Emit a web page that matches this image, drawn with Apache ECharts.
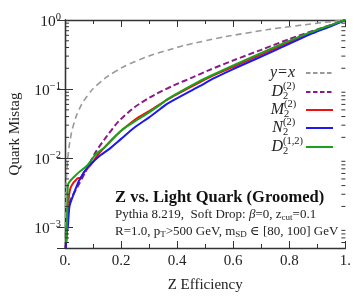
<!DOCTYPE html>
<html><head><meta charset="utf-8">
<script src="https://cdn.jsdelivr.net/npm/echarts@6/dist/echarts.min.js"></script>
<style>html,body{margin:0;padding:0;background:#fff}#c{width:354px;height:298px}</style>
</head><body><div id="c"></div>
<script>
// ---- data ----
const xTickLabels = {0:'0.', 0.2:'0.2', 0.4:'0.4', 0.6:'0.6', 0.8:'0.8', 1:'1.'};
const yExponents = [-3, -2, -1, 0];
const minorTickValues = [0.0006,0.0007,0.0008,0.0009,
  0.002,0.003,0.004,0.005,0.006,0.007,0.008,0.009,
  0.02,0.03,0.04,0.05,0.06,0.07,0.08,0.09,
  0.2,0.3,0.4,0.5,0.6,0.7,0.8,0.9];
const yEqX = [[0.0005,0.0005],[0.001,0.001],[0.002,0.002],[0.003,0.003],[0.005,0.005],[0.008,0.008],[0.012,0.012],[0.02,0.02],[0.03,0.03],[0.05,0.05],[0.08,0.08],[0.12,0.12],[0.18,0.18],[0.25,0.25],[0.35,0.35],[0.5,0.5],[0.65,0.65],[0.8,0.8],[1,1]];
const D2 = [[0.002,0.0005],[0.006,0.001],[0.010,0.0019],[0.024,0.0027],[0.051,0.0043],[0.07,0.006],[0.108,0.012],[0.15,0.021],[0.191,0.034],[0.249,0.055],[0.318,0.082],[0.388,0.113],[0.457,0.149],[0.514,0.188],[0.6,0.26],[0.7,0.37],[0.8,0.53],[0.9,0.73],[0.96,0.88],[1,1]];
const M2 = [[0.003,0.0005],[0.007,0.001],[0.010,0.0018],[0.015,0.003],[0.022,0.0039],[0.045,0.0051],[0.056,0.0052],[0.068,0.0063],[0.097,0.0085],[0.12,0.0115],[0.18,0.021],[0.249,0.036],[0.3,0.048],[0.364,0.07],[0.48,0.125],[0.526,0.155],[0.6,0.21],[0.757,0.4],[0.87,0.63],[0.95,0.84],[1,1]];
const N2 = [[0.003,0.0005],[0.006,0.0008],[0.010,0.001],[0.016,0.002],[0.028,0.0028],[0.05,0.0047],[0.08,0.0073],[0.12,0.0105],[0.157,0.0135],[0.2,0.019],[0.249,0.028],[0.3,0.039],[0.341,0.052],[0.364,0.061],[0.48,0.11],[0.526,0.14],[0.6,0.195],[0.757,0.375],[0.87,0.61],[0.95,0.82],[1,1]];
const D12 = [[0.004,0.0006],[0.007,0.0012],[0.009,0.0025],[0.0104,0.0041],[0.039,0.0057],[0.08,0.0079],[0.111,0.0115],[0.143,0.0145],[0.2,0.025],[0.249,0.034],[0.3,0.046],[0.341,0.06],[0.364,0.071],[0.48,0.13],[0.526,0.16],[0.6,0.22],[0.757,0.42],[0.87,0.65],[0.95,0.85],[1,1]];

const SERIF = '"Liberation Serif","DejaVu Serif",serif';
const AX = '#333';
const C_GRAY = '#999', C_PURP = '#8a1a8a', C_RED = '#f01010', C_BLUE = '#1a1af0', C_GREEN = '#1aa31a';
const chart = echarts.init(document.getElementById('c'));

function yLabel(v){
  const e = Math.log10(v), r = Math.round(e);
  if (Math.abs(e - r) > 1e-6 || yExponents.indexOf(r) < 0) return '';
  return '{b|10}{s|' + (r < 0 ? '\u2212' + (-r) : r) + '}';
}
const lineBase = {type:'line', showSymbol:false, symbol:'none', smooth:0.25, z:3};

function mathLabel(main, sup, sub, cy, supX){
  return [
    {type:'text', style:{text:main, x:supX, y:cy, textAlign:'right', textVerticalAlign:'middle', font:'italic 16px '+SERIF, fill:'#222'}},
    {type:'text', style:{text:sup, x:supX, y:cy-6, textAlign:'left', textVerticalAlign:'middle', font:'10.5px '+SERIF, fill:'#222'}},
    {type:'text', style:{text:sub, x:supX, y:cy+4, textAlign:'left', textVerticalAlign:'middle', font:'10.5px '+SERIF, fill:'#222'}}
  ];
}
function legLine(cy, color, dash){
  return {type:'line', shape:{x1:306, y1:cy, x2:333, y2:cy}, style:{stroke:color, lineWidth:2, lineDash:dash||null}};
}

const graphics = [].concat(
  [{type:'text', style:{text:'y=x', x:295, y:73, textAlign:'right', textVerticalAlign:'middle', font:'italic 16px '+SERIF, fill:'#222'}}],
  mathLabel('D','(2)','2',92,283),
  mathLabel('M','(2)','2',110,284),
  mathLabel('N','(2)','2',128,283),
  mathLabel('D','(1,2)','2',147,283),
  [
    legLine(73, C_GRAY, [4.5,2.5]),
    legLine(92, C_PURP, [4.5,2.5]),
    legLine(110, C_RED),
    legLine(128, C_BLUE),
    legLine(147, C_GREEN),
    {type:'text', style:{text:'Z vs. Light Quark (Groomed)', x:115, y:198, textVerticalAlign:'middle', font:'bold 16.5px '+SERIF, fill:'#111'}},
    {type:'text', style:{
      text:'{n|Pythia 8.219,  Soft Drop: }{i|\u03B2}{n|=0, }{n|z}{sub|cut}{n|=0.1}',
      x:115, y:215, textVerticalAlign:'middle',
      rich:{n:{fontFamily:SERIF, fontSize:13, lineHeight:15, fill:'#222'}, i:{fontFamily:SERIF, fontStyle:'italic', fontSize:13, lineHeight:15, fill:'#222'}, sub:{fontFamily:SERIF, fontSize:9, lineHeight:9, verticalAlign:'bottom', fill:'#222'}}
    }},
    {type:'text', style:{
      text:'{n|R=1.0, p}{sub|T}{n|>500 GeV, m}{sub|SD}{n| \u2208 [80, 100] GeV}',
      x:115, y:232, textVerticalAlign:'middle',
      rich:{n:{fontFamily:SERIF, fontSize:13, lineHeight:15, fill:'#222'}, sub:{fontFamily:SERIF, fontSize:9, lineHeight:9, verticalAlign:'bottom', fill:'#222'}}
    }}
  ]
);

const option = {
  animation:false,
  backgroundColor:'#fff',
  grid:{left:58, right:7, top:20, bottom:46, containLabel:false},
  xAxis:[
    {type:'value', min:0, max:1, interval:0.2, position:'bottom',
     name:'Z Efficiency', nameLocation:'middle', nameGap:30,
     nameTextStyle:{fontFamily:SERIF, fontSize:15, color:'#222'},
     axisLine:{lineStyle:{color:AX, width:1.3}},
     axisTick:{inside:true, length:7, lineStyle:{color:AX}},
     minorTick:{show:true, splitNumber:2, length:4, lineStyle:{color:AX}},
     axisLabel:{formatter:v=>xTickLabels[Math.round(v*10)/10] ?? '', fontFamily:SERIF, fontSize:15, color:'#222', margin:6},
     splitLine:{show:false}},
    {type:'value', min:0, max:1, interval:0.2, position:'top',
     axisLine:{lineStyle:{color:AX, width:1.3}},
     axisTick:{inside:true, length:7, lineStyle:{color:AX}},
     minorTick:{show:true, splitNumber:2, length:4, lineStyle:{color:AX}},
     axisLabel:{show:false}, splitLine:{show:false}}
  ],
  yAxis:[
    {type:'log', logBase:10, min:0.0005, max:1, position:'left',
     name:'Quark Mistag', nameLocation:'middle', nameGap:42,
     nameTextStyle:{fontFamily:SERIF, fontSize:15, color:'#222'},
     axisLine:{show:true, lineStyle:{color:AX, width:1.3}},
     axisTick:{inside:true, length:8, lineStyle:{color:AX}},
     axisLabel:{formatter:yLabel, margin:4, showMinLabel:true,
       rich:{b:{fontFamily:SERIF, fontSize:15.5, color:'#222', lineHeight:16, padding:[4,0,0,0]}, s:{fontFamily:SERIF, fontSize:10.5, color:'#222', lineHeight:10, verticalAlign:'top'}}},
     splitLine:{show:false}},
    {type:'log', logBase:10, min:0.0005, max:1, position:'right',
     axisLine:{show:true, lineStyle:{color:AX, width:1.3}},
     axisTick:{inside:true, length:8, lineStyle:{color:AX}},
     axisLabel:{show:false}, splitLine:{show:false}}
  ],
  series:[
    Object.assign({}, lineBase, {name:'y=x', data:yEqX, smooth:0.5, lineStyle:{color:C_GRAY, width:1.6, type:[6,4]}}),
    Object.assign({}, lineBase, {name:'D2', data:D2, lineStyle:{color:C_PURP, width:2, type:[6,3]}}),
    Object.assign({}, lineBase, {name:'M2', data:M2, lineStyle:{color:C_RED, width:2}}),
    Object.assign({}, lineBase, {name:'N2', data:N2, lineStyle:{color:C_BLUE, width:2}}),
    Object.assign({}, lineBase, {name:'D12', data:D12, lineStyle:{color:C_GREEN, width:2}}),
    {type:'custom', name:'minorTicks', silent:true, z:4,
     data:minorTickValues.map(v=>[0, v]),
     renderItem:function(params, api){
       const p = api.coord([0, api.value(1)]);
       const cs = params.coordSys;
       const x0 = cs.x, x1 = cs.x + cs.width;
       const st = {stroke:AX, lineWidth:1};
       return {type:'group', children:[
         {type:'line', shape:{x1:x0, y1:p[1], x2:x0+4, y2:p[1]}, style:st},
         {type:'line', shape:{x1:x1-4, y1:p[1], x2:x1, y2:p[1]}, style:st}
       ]};
     }}
  ],
  graphic:graphics
};
chart.setOption(option);
</script></body></html>
